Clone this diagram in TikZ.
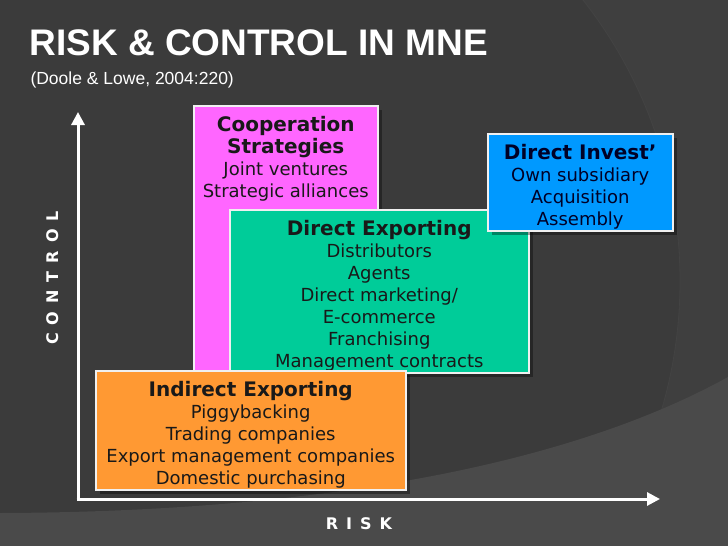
\documentclass[tikz,border=0pt]{standalone}
\usepackage{fontspec}
\setmainfont{DejaVu Sans}
\newfontfamily\titlefont{Liberation Sans}
\newfontfamily\axisfont[LetterSpace=50]{DejaVu Sans}
\usetikzlibrary{arrows.meta,shadows}

\definecolor{bgdark}{HTML}{3B3B3B}
\definecolor{bgarc}{HTML}{3F3F3F}
\definecolor{bglow}{HTML}{4A4A4A}
\definecolor{coopcol}{HTML}{FF66FF}
\definecolor{directcol}{HTML}{00CC99}
\definecolor{investcol}{HTML}{0099FF}
\definecolor{indirectcol}{HTML}{FF9933}

\begin{document}
\begin{tikzpicture}[x=1pt,y=-1pt,
  box/.style={draw=white!94!black,line width=1.5pt,anchor=north west,inner sep=0pt,
    drop shadow={shadow xshift=4pt,shadow yshift=-4pt,opacity=.35,fill=black}},
  boxtext/.style={anchor=north,inner sep=0pt,align=center,yshift=-11pt,
    font=\fontsize{18}{22}\selectfont},
  axis/.style={white,line width=3pt,-{Triangle[length=13pt,width=13pt]}},
  axislabel/.style={white,font=\axisfont\bfseries\fontsize{16}{18}\selectfont}]
\useasboundingbox (0,0) rectangle (728,546);
\fill[bgdark] (0,0) rectangle (728,546);
\fill[bgarc,even odd rule] (0,0) rectangle (728,546) (225,281) circle (455);
\fill[bglow] (0,513) .. controls (300,512) and (560,470) .. (728,377) -- (728,546) -- (0,546) -- cycle;
\draw[black!70,opacity=.4,line width=.8pt] (225,281) circle (455);

\node[white,anchor=base west,font=\titlefont\bfseries\fontsize{37}{40}\selectfont] (title) at (26,55) {RISK \& CONTROL IN MNE};
\node[white,anchor=base west,font=\titlefont\fontsize{17.5}{20}\selectfont] (source) at (27,84) {(Doole \& Lowe, 2004:220)};

\coordinate (origin) at (78,499);
\coordinate (ytip) at (78,112);
\coordinate (xtip) at (660,499);
\draw[axis] (origin) -- (ytip);
\draw[axis] ([xshift=-1.5pt]origin) -- (xtip);
\node[axislabel,rotate=90] (control) at (53,278) {CONTROL};
\node[axislabel] (risk) at (359,524) {RISK};

\node[box,fill=coopcol,minimum width=184pt,minimum height=265pt] (coop) at (193,105) {};
\node[boxtext,text=black!90] (cooptxt) at (coop.north) {\textbf{\fontsize{20}{22}\selectfont Cooperation}\\\textbf{\fontsize{20}{22}\selectfont Strategies}\\Joint ventures\\Strategic alliances};

\node[box,fill=directcol,minimum width=299pt,minimum height=163pt] (direct) at (229,209) {};
\node[boxtext,text=black!90] (directtxt) at (direct.north) {\textbf{\fontsize{20}{22}\selectfont Direct Exporting}\\Distributors\\Agents\\Direct marketing/\\E-commerce\\Franchising\\Management contracts};

\node[box,fill=investcol,minimum width=185pt,minimum height=97pt] (invest) at (487,133) {};
\node[boxtext,text=blue!15!black] (investtxt) at (invest.north) {\textbf{\fontsize{20}{22}\selectfont Direct Invest’}\\Own subsidiary\\Acquisition\\Assembly};

\node[box,fill=indirectcol,minimum width=310pt,minimum height=119pt] (indirect) at (95,370) {};
\node[boxtext,text=black!90] (indirecttxt) at (indirect.north) {\textbf{\fontsize{20}{22}\selectfont Indirect Exporting}\\Piggybacking\\Trading companies\\Export management companies\\Domestic purchasing};
\end{tikzpicture}
\end{document}
